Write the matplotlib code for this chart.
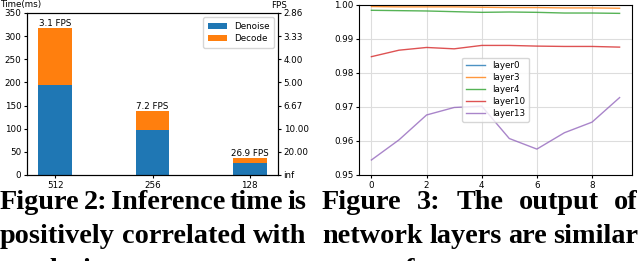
import matplotlib
matplotlib.use("Agg")
import matplotlib.pyplot as plt
import numpy as np

# ---- data ----
resolutions = ["512", "256", "128"]
denoise_ms = [195, 97, 27]
decode_ms = [123, 41, 10.2]
time_ticks = [0, 50, 100, 150, 200, 250, 300, 350]

frames = list(range(10))
layer0 = [0.9999, 0.9999, 0.9999, 0.9999, 0.9999, 0.9999, 0.9999, 0.9999, 0.9999, 0.9998]
layer3 = [0.9994, 0.9993, 0.9993, 0.9993, 0.9992, 0.9991, 0.9991, 0.9990, 0.9990, 0.9989]
layer4 = [0.9983, 0.9982, 0.9981, 0.9979, 0.9977, 0.9978, 0.9977, 0.9975, 0.9975, 0.9974]
layer10 = [0.9847, 0.9866, 0.9874, 0.9870, 0.9880, 0.9880, 0.9878, 0.9877, 0.9877, 0.9875]
layer13 = [0.9544, 0.9603, 0.9676, 0.9698, 0.9702, 0.9607, 0.9576, 0.9624, 0.9655, 0.9727]
layer_names = ["layer0", "layer3", "layer4", "layer10", "layer13"]

captions_left = [["Figure", "2:", "Inference", "time", "is"],
                 ["positively", "correlated", "with"],
                 ["resolution."]]
captions_right = [["Figure", "3:", "The", "output", "of"],
                  ["network", "layers", "are", "similar"],
                  ["across", "frames."]]

W, H = 640, 261
fig = plt.figure(figsize=(6.4, 2.61), dpi=100)
plt.rcParams['font.size'] = 6

def px_rect(x0, y0, x1, y1):
    return [x0 / W, 1 - y1 / H, (x1 - x0) / W, (y1 - y0) / H]

# ---- left chart ----
ax = fig.add_axes(px_rect(27, 13, 278, 175))
x = np.arange(len(resolutions))
ax.bar(x, denoise_ms, 0.35, color="#1f77b4", label="Denoise")
ax.bar(x, decode_ms, 0.35, bottom=denoise_ms, color="#ff7f0e", label="Decode")
ax.set_xticks(x)
ax.set_xticklabels(resolutions, fontsize=5.5)
ax.set_ylim(0, 350)
ax.set_yticks(time_ticks)
ax.tick_params(labelsize=6.3, length=2.5, pad=1.5)
for xi, d, c in zip(x, denoise_ms, decode_ms):
    tot = d + c
    ax.text(xi, tot, f"{1000 / tot:.1f} FPS", ha="center", va="bottom", fontsize=6.3)
ax.legend(loc="upper right", fontsize=6.3, handlelength=2.2, borderpad=0.5, labelspacing=0.4)
ax2 = ax.twinx()
ax2.set_ylim(0, 350)
ax2.set_yticks(time_ticks)
ax2.set_yticklabels(["inf" if t == 0 else f"{1000 / t:.2f}" for t in time_ticks])
ax2.tick_params(labelsize=6.3, length=2.5, pad=1.5)
fig.text(0 / W, 1 - 5 / H, "Time(ms)", ha="left", va="center", fontsize=6.3)
fig.text(271 / W, 1 - 5 / H, "FPS", ha="left", va="center", fontsize=6.3)

# ---- right chart ----
bx = fig.add_axes(px_rect(359, 4.5, 632, 175))
series = [layer0, layer3, layer4, layer10, layer13]
colors = ["#1f77b4", "#ff7f0e", "#2ca02c", "#d62728", "#9467bd"]
for s, n, c in zip(series, layer_names, colors):
    bx.plot(frames, s, color=c, lw=1.0, alpha=0.8, label=n)
bx.set_ylim(0.95, 1.0)
bx.set_yticks([0.95, 0.96, 0.97, 0.98, 0.99, 1.00])
bx.set_xticks([0, 2, 4, 6, 8])
bx.grid(True, color="#dddddd", lw=0.8)
bx.set_axisbelow(True)
bx.tick_params(labelsize=6.3, length=2.5, pad=1.5)
bx.legend(loc="center", fontsize=6.3, handlelength=2.2, labelspacing=0.35)

# ---- captions (justified) ----
fig.canvas.draw()
renderer = fig.canvas.get_renderer()
cap_family = ["Liberation Serif", "DejaVu Serif"]
# fit font size so that a natural (non-stretched) line fills the column width
probe = fig.text(0, 0, " ".join(captions_left[1]), family=cap_family, fontweight="bold", fontsize=20)
pw = probe.get_window_extent(renderer).width
probe.remove()
cap_fs = 20 * 306 / pw
cap_kw = dict(family=cap_family, fontweight="bold", fontsize=cap_fs)
space_w = fig.text(0, 0, "a a", **cap_kw)
sw = space_w.get_window_extent(renderer).width
space_w.remove()
aw = fig.text(0, 0, "aa", **cap_kw)
sw -= aw.get_window_extent(renderer).width
aw.remove()

def place_line(words, x0, x1, ybase, justify):
    texts = [fig.text(0, 1 - ybase / H, w, ha="left", va="baseline", **cap_kw) for w in words]
    widths = [t.get_window_extent(renderer).width for t in texts]
    if justify and len(words) > 1:
        gap = (x1 - x0 - sum(widths)) / (len(words) - 1)
    else:
        gap = sw
    cx = x0
    for t, wd in zip(texts, widths):
        t.set_x(cx / W)
        cx += wd + gap

for caps, x0, x1 in [(captions_left, 0, 306), (captions_right, 322, 638)]:
    for i, words in enumerate(caps):
        place_line(words, x0, x1, 209 + 34 * i, i < len(caps) - 1)

fig.savefig("out.png", dpi=100)
